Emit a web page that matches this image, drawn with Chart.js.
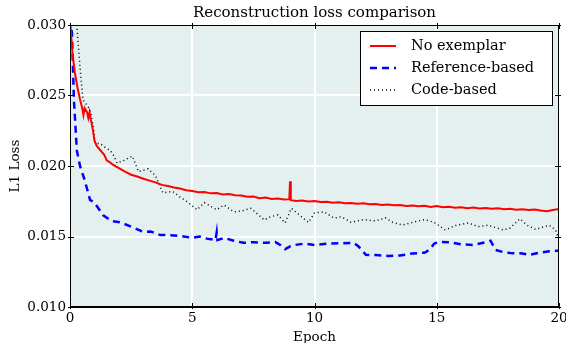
<!DOCTYPE html>
<html>
<head>
<meta charset="utf-8">
<script src="https://cdn.jsdelivr.net/npm/chart.js@4/dist/chart.umd.min.js"></script>
<style>
  html, body { margin: 0; padding: 0; background: #fff; }
  #wrap { width: 566px; height: 343px; }
</style>
</head>
<body>
<div id="wrap"><canvas id="chart" width="566" height="343"></canvas></div>
<script>
    // values
    const xTicks = [0, 5, 10, 15, 20]
    const yTicks = [0.010, 0.015, 0.020, 0.025, 0.030]

    const redEpochs = [0, 0.05, 0.1, 0.2, 0.3, 0.4, 0.5, 0.55, 0.6, 0.7, 0.75, 0.8, 0.85, 0.9, 0.95, 1.0, 1.1, 1.25, 1.4, 1.5, 1.6, 1.75, 2.0, 2.25, 2.5, 2.75,
        3.0, 3.25, 3.5, 3.75, 4.0, 4.25, 4.5, 4.75, 5.0, 5.25, 5.5, 5.75, 6.0, 6.25, 6.5, 6.75, 7.0, 7.25, 7.5, 7.75, 8.0, 8.25, 8.5, 8.75, 8.97, 9.0, 9.03,
        9.25, 9.5, 9.75, 10.0, 10.25, 10.5, 10.75, 11.0, 11.25, 11.5, 11.75, 12.0, 12.25, 12.5, 12.75, 13.0, 13.25, 13.5, 13.75, 14.0, 14.25, 14.5, 14.75,
        15.0, 15.25, 15.5, 15.75, 16.0, 16.25, 16.5, 16.75, 17.0, 17.25, 17.5, 17.75, 18.0, 18.25, 18.5, 18.75, 19.0, 19.25, 19.5, 19.75, 20.0]
    const redLoss = [0.0305, 0.0292, 0.0280, 0.0266, 0.0256, 0.0248, 0.0241, 0.0236, 0.0241, 0.0238, 0.0234, 0.0238, 0.0233, 0.0229, 0.0224, 0.0218, 0.0214, 0.0211, 0.0208, 0.0204, 0.0203, 0.0201, 0.01985, 0.01960, 0.01938, 0.01925,
        0.01910, 0.01896, 0.01884, 0.01866, 0.01858, 0.01848, 0.01840, 0.01828, 0.01822, 0.01814, 0.01816, 0.01806, 0.01808, 0.01798, 0.01802, 0.01792, 0.01790, 0.01782, 0.01784, 0.01772, 0.01776, 0.01766, 0.01770, 0.01762, 0.01765, 0.01892, 0.01758,
        0.01752, 0.01756, 0.01748, 0.01752, 0.01744, 0.01746, 0.01740, 0.01743, 0.01736, 0.01738, 0.01732, 0.01735, 0.01728, 0.01731, 0.01724, 0.01727, 0.01721, 0.01724, 0.01717, 0.01720, 0.01714, 0.01718, 0.01710,
        0.01716, 0.01708, 0.01711, 0.01704, 0.01708, 0.01701, 0.01705, 0.01698, 0.01702, 0.01696, 0.01700, 0.01693, 0.01697, 0.01690, 0.01694, 0.01688, 0.01692, 0.01685, 0.01680, 0.01688, 0.01696]

    const blueEpochs = [0, 0.08, 0.16, 0.28, 0.41, 0.6, 0.82, 1.0, 1.36, 1.7, 2.06, 2.5, 3.0, 3.3, 3.7, 4.0, 4.5, 5.0, 5.3, 5.6, 5.95, 6.0, 6.03, 6.3, 6.7, 7.1, 7.5, 8.0, 8.4, 8.6, 8.8, 9.0, 9.2, 9.6, 10.0,
        10.5, 11.0, 11.6, 11.8, 12.1, 12.5, 13.0, 13.5, 14.0, 14.5, 14.7, 14.9, 15.1, 15.5, 16.0, 16.5, 17.0, 17.2, 17.4, 17.7, 18.0, 18.5, 18.8, 19.2, 19.6, 20.0]
    const blueLoss = [0.0305, 0.0294, 0.0247, 0.0211, 0.0200, 0.0190, 0.0176, 0.0174, 0.0165, 0.0161, 0.0160, 0.0157, 0.01533, 0.01535, 0.0151, 0.0151, 0.01505, 0.0149, 0.0150, 0.01485, 0.01475, 0.0153, 0.01475, 0.0149, 0.0147, 0.01455, 0.0146, 0.01455, 0.0146, 0.0144, 0.0141, 0.0143, 0.0144, 0.0145, 0.0144,
        0.01448, 0.01452, 0.01455, 0.0143, 0.0137, 0.01368, 0.01362, 0.01365, 0.0138, 0.01385, 0.01405, 0.0145, 0.01462, 0.0146, 0.01445, 0.0144, 0.0146, 0.0147, 0.01405, 0.0139, 0.01383, 0.0138, 0.0137, 0.01385, 0.01395, 0.0140]

    const codeEpochs = [0.1, 0.28, 0.41, 0.53, 0.7, 0.82, 0.95, 1.03, 1.23, 1.45, 1.65, 1.8, 1.93, 2.2, 2.55, 2.8, 3.2, 3.5, 3.8, 4.2, 4.5, 4.8, 5.2, 5.5, 6.0, 6.3, 6.7, 7.0, 7.4, 7.95, 8.2, 8.5, 8.8, 9.05, 9.4, 9.75, 10.0,
        10.4, 10.8, 11.1, 11.5, 12.0, 12.5, 12.9, 13.2, 13.6, 14.0, 14.5, 14.9, 15.35, 15.8, 16.3, 16.7, 17.1, 17.7, 18.0, 18.4, 18.7, 19.05, 19.4, 19.6, 19.85, 20.0]
    const codeLoss = [0.0305, 0.0299, 0.0270, 0.0247, 0.0243, 0.0240, 0.0228, 0.0216, 0.0216, 0.0213, 0.0211, 0.0207, 0.0202, 0.0204, 0.0207, 0.0196, 0.0198, 0.0193, 0.0181, 0.0182, 0.0178, 0.01745, 0.0169, 0.0174, 0.0169, 0.01724, 0.01675, 0.0168, 0.0170, 0.01617, 0.0164, 0.01653, 0.01597, 0.0170, 0.0165, 0.0160, 0.01667,
        0.01675, 0.0163, 0.0164, 0.0160, 0.0162, 0.0161, 0.01632, 0.0160, 0.01582, 0.0160, 0.0162, 0.0160, 0.01547, 0.0158, 0.01596, 0.0157, 0.0158, 0.01547, 0.0156, 0.01625, 0.0158, 0.0155, 0.0157, 0.0158, 0.0155, 0.0148]

    const SERIF = "'DejaVu Serif', serif"
    const PLOT_BG = '#e4efef'

    const toPoints = (xs, ys) => xs.map((x, i) => ({ x: x, y: ys[i] }))

    const series = [
        { label: 'No exemplar', data: toPoints(redEpochs, redLoss), color: '#ff0000', width: 2, dash: [] },
        { label: 'Reference-based', data: toPoints(blueEpochs, blueLoss), color: '#0000ff', width: 2.5, dash: [7, 5] },
        { label: 'Code-based', data: toPoints(codeEpochs, codeLoss), color: '#000000', width: 1.5, dash: [1, 3] },
    ]

    // plot background, frame, ticks, title and legend box
    const decorations = {
        id: 'decorations',
        beforeDraw(chart) {
            const { ctx, chartArea: a } = chart
            ctx.save()
            ctx.fillStyle = PLOT_BG
            ctx.fillRect(a.left, a.top, a.right - a.left, a.bottom - a.top)
            ctx.restore()
        },
        afterDraw(chart) {
            const { ctx, chartArea: a, scales } = chart
            ctx.save()
            ctx.strokeStyle = '#000'
            ctx.lineWidth = 1
            ctx.setLineDash([])
            ctx.strokeRect(a.left + 0.5, a.top + 0.5, a.right - a.left - 1, a.bottom - a.top - 1)

            ctx.beginPath()
            xTicks.forEach(v => {
                const px = Math.round(scales.x.getPixelForValue(v)) + 0.5
                ctx.moveTo(px, a.bottom + 2); ctx.lineTo(px, a.bottom - 4)
                ctx.moveTo(px, a.top - 2); ctx.lineTo(px, a.top + 4)
            })
            yTicks.forEach(v => {
                const py = Math.round(scales.y.getPixelForValue(v)) + 0.5
                ctx.moveTo(a.left - 2, py); ctx.lineTo(a.left + 4, py)
                ctx.moveTo(a.right + 2, py); ctx.lineTo(a.right - 4, py)
            })
            ctx.stroke()

            ctx.fillStyle = '#000'
            ctx.font = '15px ' + SERIF
            ctx.textAlign = 'center'
            ctx.textBaseline = 'middle'
            ctx.fillText('Reconstruction loss comparison', (a.left + a.right) / 2, 13)

            // legend
            const lx = 360, ly = 31, lw = 192, lh = 74
            ctx.fillStyle = '#fff'
            ctx.fillRect(lx, ly, lw, lh)
            ctx.strokeRect(lx + 0.5, ly + 0.5, lw, lh)
            const rows = [46, 68, 90]
            ctx.textAlign = 'left'
            ctx.font = '14.5px ' + SERIF
            series.forEach((s, i) => {
                ctx.beginPath()
                ctx.strokeStyle = s.color
                ctx.lineWidth = s.width
                ctx.setLineDash(s.dash)
                ctx.moveTo(370, rows[i]); ctx.lineTo(396, rows[i])
                ctx.stroke()
                ctx.fillStyle = '#000'
                ctx.fillText(s.label, 411, rows[i])
            })
            ctx.restore()
        },
    }

    new Chart(document.getElementById('chart'), {
        type: 'line',
        data: {
            datasets: series.map(s => ({
                label: s.label,
                data: s.data,
                borderColor: s.color,
                borderWidth: s.width,
                borderDash: s.dash,
                pointRadius: 0,
                tension: 0,
                fill: false,
            })),
        },
        options: {
            responsive: false,
            animation: false,
            devicePixelRatio: 1,
            layout: { padding: { top: 25, right: 7, left: 0, bottom: 0 } },
            plugins: {
                legend: { display: false },
                tooltip: { enabled: false },
            },
            scales: {
                x: {
                    type: 'linear',
                    min: 0,
                    max: 20,
                    afterFit: scale => {
                        scale.height = 36
                        scale.paddingRight = 0
                        scale.paddingLeft = 0
                    },
                    afterBuildTicks: scale => { scale.ticks = xTicks.map(v => ({ value: v })) },
                    ticks: { color: '#000', font: { family: SERIF, size: 13.5 }, padding: 3 },
                    grid: { color: '#fff', lineWidth: 2, drawTicks: false },
                    border: { display: true, color: '#000', width: 1 },
                    title: { display: true, text: 'Epoch', color: '#000', font: { family: SERIF, size: 13.5 }, padding: { top: 0, bottom: -3 } },
                },
                y: {
                    min: 0.010,
                    max: 0.030,
                    afterFit: scale => {
                        scale.width = 70
                        scale.paddingTop = 0
                        scale.paddingBottom = 0
                    },
                    afterBuildTicks: scale => { scale.ticks = yTicks.map(v => ({ value: v })) },
                    ticks: {
                        color: '#000',
                        font: { family: SERIF, size: 13.5 },
                        padding: 4,
                        callback: v => v.toFixed(3),
                    },
                    grid: { color: '#fff', lineWidth: 2, drawTicks: false },
                    border: { display: true, color: '#000', width: 1 },
                    title: { display: true, text: 'L1 Loss', color: '#000', font: { family: SERIF, size: 13.5 }, padding: { top: 7, bottom: 0 } },
                },
            },
        },
        plugins: [decorations],
    })
</script>
</body>
</html>
